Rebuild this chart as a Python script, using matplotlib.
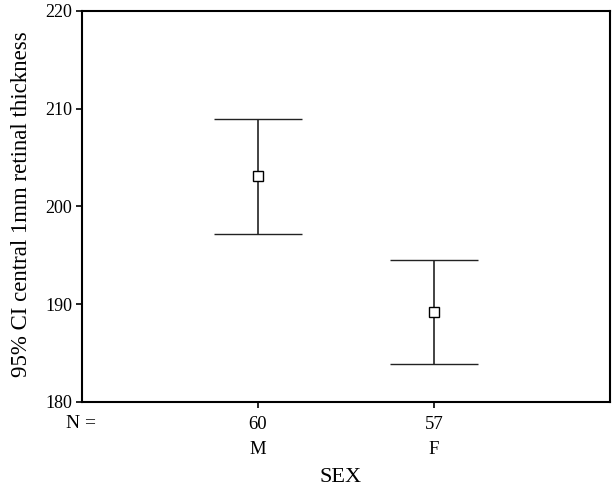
"""
95% CI error bar chart by SEX
"""
import matplotlib.pyplot as plt

plt.rcParams['font.family'] = ['Liberation Serif', 'DejaVu Serif']

# data
groups = ['M', 'F']
counts = [60, 57]
means = [203.1, 189.2]
ci_low = [197.2, 183.9]
ci_high = [209.0, 194.5]

fig = plt.figure(figsize=(6.12, 4.9), dpi=100)
ax = fig.add_axes([82 / 612, 1 - 402 / 490, 528 / 612, 391 / 490])

xs = [1, 2]
err_lo = [m - l for m, l in zip(means, ci_low)]
err_hi = [h - m for m, h in zip(means, ci_high)]
ax.errorbar(xs, means, yerr=[err_lo, err_hi], fmt='s', color='#222222',
            mfc='white', mec='black', ms=6.5, mew=1, elinewidth=1.2,
            capsize=32, capthick=1.2)

ax.set_xlim(0, 3)
ax.set_ylim(180, 220)
ax.set_yticks([180, 190, 200, 210, 220])
ax.set_xticks(xs)
ax.set_xticklabels([f'{n}\n{g}' for n, g in zip(counts, groups)], linespacing=1.6)
ax.tick_params(axis='both', direction='out', length=4, width=1.2, labelsize=13, pad=3)
ax.tick_params(axis='x', pad=6, labelsize=13.5)
for s in ax.spines.values():
    s.set_linewidth(1.5)

# N = label
fig.text(66 / 612, 1 - 423 / 490, 'N =', ha='left', va='center', fontsize=14)

ax.set_xlabel('SEX', fontsize=16)
ax.xaxis.label.set_va('center')
ax.xaxis.set_label_coords((341 - 82) / 528, (402 - 477) / 391)
ax.set_ylabel('95% CI central 1mm retinal thickness', fontsize=16.5)
ax.yaxis.label.set_va('center')
ax.yaxis.set_label_coords((22 - 82) / 528, (402 - 204) / 391)

fig.savefig('out.png', dpi=100)
